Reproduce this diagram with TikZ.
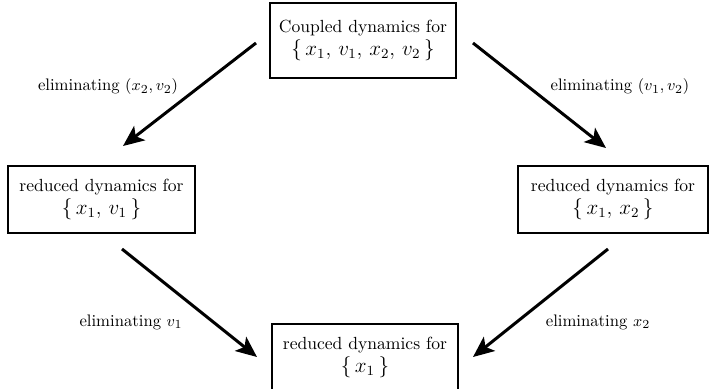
\documentclass[tikz,border=0pt]{standalone}
\usepackage{amsmath}
\usepackage{xcolor}
\usepackage{tikz}
\usetikzlibrary{arrows.meta}
\tikzstyle{box}=[draw=black, line width=1.3pt, align=center, inner sep=2pt, minimum width=3.74cm, minimum height=1.34cm]
\tikzstyle{elim text}=[font=\fontsize{9.5}{11}\selectfont]
\tikzstyle{arrow edge}=[-{Stealth[length=4.2mm, width=3.6mm, inset=1mm]}, draw=black, line width=1.7pt]
\pgfdeclarelayer{nodelayer}
\pgfdeclarelayer{edgelayer}
\pgfsetlayers{main,nodelayer,edgelayer}

\begin{document}
\begin{tikzpicture}
	\useasboundingbox (-7.09, -3.88) rectangle (7.09, 3.88);
	\begin{pgfonlayer}{nodelayer}
		\node [style=box, minimum width=3.72cm, minimum height=1.5cm] (0) at (0.17, 3.07) {Coupled dynamics for\\[1pt] \large $\{\,x_1,\, v_1,\, x_2,\, v_2\,\}$};
		\node [style=box] (1) at (-5.06, -0.11) {reduced dynamics for\\[1pt] \large $\{\,x_1,\, v_1\,\}$};
		\node [style=box, minimum width=3.8cm] (2) at (5.17, -0.11) {reduced dynamics for\\[1pt] \large $\{\,x_1,\, x_2\,\}$};
		\node [style=box, minimum width=3.72cm] (3) at (0.21, -3.27) {reduced dynamics for\\[1pt] \large $\{\,x_1\,\}$};
		\node [style=elim text] (4) at (-4.93, 2.14) {eliminating $(x_2, v_2)$};
		\node [style=elim text] (5) at (5.31, 2.14) {eliminating $(v_1, v_2)$};
		\node [style=elim text] (6) at (-4.47, -2.56) {eliminating $v_1$};
		\node [style=elim text] (7) at (4.87, -2.56) {eliminating $x_2$};
		\coordinate (8) at (-1.97, 3.02);
		\coordinate (9) at (-4.63, 0.96);
		\coordinate (10) at (2.37, 3.02);
		\coordinate (11) at (5.03, 0.92);
		\coordinate (12) at (-4.65, -1.10);
		\coordinate (13) at (-1.95, -3.26);
		\coordinate (14) at (5.07, -1.10);
		\coordinate (15) at (2.37, -3.26);
	\end{pgfonlayer}
	\begin{pgfonlayer}{edgelayer}
		\draw [style=arrow edge] (8) to (9);
		\draw [style=arrow edge] (10) to (11);
		\draw [style=arrow edge] (12) to (13);
		\draw [style=arrow edge] (14) to (15);
	\end{pgfonlayer}
\end{tikzpicture}
\end{document}
